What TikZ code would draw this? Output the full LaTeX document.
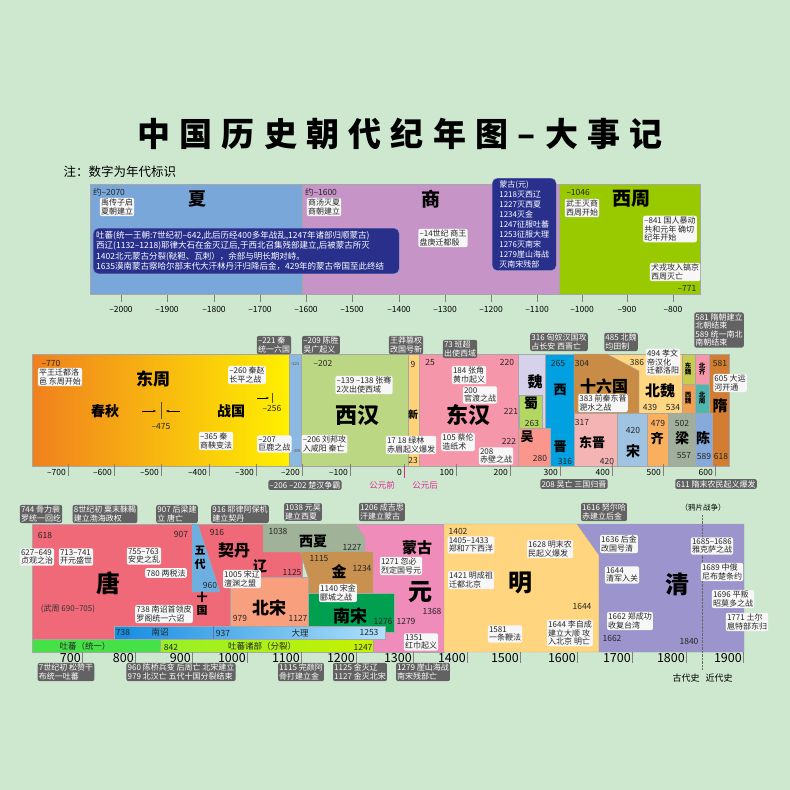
\documentclass[tikz,border=0pt]{standalone}
\usepackage{fontspec}
\setmainfont{Noto Sans CJK SC}
\usepackage{xcolor}
\definecolor{bgpaper}{RGB}{206,232,208}
\definecolor{boxgray}{RGB}{98,98,98}
\definecolor{navy}{RGB}{40,48,140}
\definecolor{cXia}{RGB}{122,167,217}
\definecolor{cShang}{RGB}{199,148,199}
\definecolor{cXizhou}{RGB}{153,202,0}
\definecolor{cDzL}{RGB}{240,128,30}
\definecolor{cDzR}{RGB}{255,240,0}
\definecolor{cQin}{RGB}{140,185,225}
\definecolor{cXihan}{RGB}{188,215,132}
\definecolor{cXin}{RGB}{255,210,120}
\definecolor{cDonghan}{RGB}{245,150,170}
\definecolor{cWei}{RGB}{215,210,235}
\definecolor{cShu}{RGB}{180,215,100}
\definecolor{cWu}{RGB}{250,150,140}
\definecolor{cXijin}{RGB}{0,160,225}
\definecolor{cSlg}{RGB}{200,140,70}
\definecolor{cBeiwei}{RGB}{255,215,130}
\definecolor{cDongwei}{RGB}{200,205,80}
\definecolor{cXiwei}{RGB}{240,160,80}
\definecolor{cBeiqi}{RGB}{245,150,170}
\definecolor{cBeizhou}{RGB}{80,180,175}
\definecolor{cSui}{RGB}{210,125,50}
\definecolor{cDongjin}{RGB}{245,180,180}
\definecolor{cSong}{RGB}{160,195,225}
\definecolor{cQi}{RGB}{250,175,95}
\definecolor{cLiang}{RGB}{160,175,155}
\definecolor{cChen}{RGB}{135,170,220}
\definecolor{cTang}{RGB}{240,105,120}
\definecolor{cWudai}{RGB}{110,175,225}
\definecolor{cBeisong}{RGB}{248,160,125}
\definecolor{cXixia}{RGB}{160,178,152}
\definecolor{cJin}{RGB}{200,145,80}
\definecolor{cNansong}{RGB}{0,160,80}
\definecolor{cYuan}{RGB}{240,140,185}
\definecolor{cMing}{RGB}{255,213,128}
\definecolor{cQing}{RGB}{156,148,205}
\definecolor{cNzL}{RGB}{20,140,225}
\definecolor{cNzR}{RGB}{175,225,250}
\definecolor{cTbL}{RGB}{70,225,70}
\definecolor{cTbM}{RGB}{150,240,40}
\definecolor{cTbR}{RGB}{200,240,0}
\definecolor{cMagenta}{RGB}{225,40,140}
\usepackage{tikz}
\usetikzlibrary{arrows.meta}

\begin{document}
\begin{tikzpicture}[x=1pt, y=-1pt,
  blk/.style={draw=black!35, line width=0.3pt},
  gbox/.style={fill=boxgray, text=white, rounded corners=2pt, inner sep=1.2pt,
    align=left, font=\fontsize{8}{8.4}\selectfont},
  wbox/.style={fill=white!97!black, text=black!85, rounded corners=2pt, inner sep=1.2pt,
    align=left, font=\fontsize{8}{8.4}\selectfont},
  nbox/.style={fill=navy, draw=navy!50, text=white, rounded corners=5pt,
    inner sep=3pt, align=left},
  yr/.style={font=\fontsize{8.5}{8.5}\selectfont, text=black!85, inner sep=0pt},
  tinyyr/.style={font=\fontsize{4}{4}\selectfont, text=black!70, inner sep=0pt},
  dyn/.style={font=\fontsize{#1}{#1}\selectfont\bfseries, inner sep=0pt, align=center},
  axlab/.style={font=\fontsize{8.5}{8.5}\selectfont, inner sep=0pt},
  bigax/.style={font=\fontsize{12.5}{12.5}\selectfont, inner sep=0pt},
]
\useasboundingbox (0,0) rectangle (790,790);
\fill[bgpaper] (0,0) rectangle (790,790);

\node[font=\fontsize{33}{33}\selectfont\bfseries\addfontfeature{LetterSpace=28}] (title) at (400,134) {中国历史朝代纪年图–大事记};
\node[font=\fontsize{12.5}{12.5}\selectfont, anchor=west] (note) at (60,172) {注：数字为年代标识};

% top band
\path[blk, fill=cXia] (90,184) rectangle (302,294);
\path[blk, fill=cShang] (302,184) rectangle (559,294);
\path[blk, fill=cXizhou] (559,184) rectangle (700,294);
\foreach \x/\t [count=\i] in {121/–2000,167/–1900,214/–1800,260/–1700,306/–1600,352/–1500,399/–1400,445/–1300,491/–1200,537/–1100,582/–1000,627/–900,673/–800}{
  \draw[black!50] (\x,295) -- (\x,302);
  \node[axlab] (ta\i) at (\x,309) {\t};
}
\node[yr] (y2070) at (109,192) {约–2070};
\node[wbox] (xiaA) at (117,207) {禹传子启\\夏朝建立};
\node[dyn=18] (xia) at (197,199) {夏};
\node[nbox, anchor=north west, text width=300pt, font=\fontsize{8.5}{10.5}\selectfont] (tubo) at (93,228)
  {吐蕃(统一王朝:7世纪初–642,此后历经400多年战乱,1247年诸部归顺蒙古)\\
   西辽(1132–1218)耶律大石在金灭辽后,于西北召集残部建立,后被蒙古所灭\\
   1402北元蒙古分裂(鞑靼、瓦剌），余部与明长期对峙。\\
   1635漠南蒙古察哈尔部末代大汗林丹汗归降后金，429年的蒙古帝国至此终结};
\node[yr] (y1600) at (321,192) {约–1600};
\node[wbox] (shangA) at (324,207) {商汤灭夏\\商朝建立};
\node[dyn=19] (shang) at (431,199) {商};
\node[wbox] (shangB) at (443,238) {–14世纪 商王\\盘庚迁都殷};
\node[nbox, anchor=north west, minimum width=64pt, minimum height=92pt, inner sep=2.5pt,
  font=\fontsize{8}{10}\selectfont] (menggu) at (492,178)
  {蒙古(元)\\1218灭西辽\\1227灭西夏\\1234灭金\\1247征服吐蕃\\1253征服大理\\1276灭南宋\\1279崖山海战\\灭南宋残部};
\node[yr] (y1046) at (578,192) {–1046};
\node[wbox] (xzA) at (582,208) {武王灭商\\西周开始};
\node[dyn=19] (xizhou) at (631,199) {西周};
\node[wbox] (xzB) at (670,229) {–841 国人暴动\\共和元年 确切\\纪年开始};
\node[wbox] (xzC) at (675,272) {犬戎攻入镐京\\西周灭亡};
\node[yr] (y771) at (687,288) {–771};

% middle band
\path[blk, left color=cDzL, right color=cDzR] (32,354) rectangle (289,466);
\path[blk, fill=cQin] (289,354) rectangle (301,466);
\path[blk, fill=cXihan] (301,354) rectangle (408,466);
\path[blk, fill=cXin] (408,354) rectangle (419,466);
\path[blk, fill=cDonghan] (419,354) rectangle (518,466);
\path[blk, fill=cWei] (518,354) rectangle (545,428);
\path[blk, fill=cShu] (519,395) rectangle (542,428);
\path[blk, fill=cXijin] (545,354) rectangle (574,466);
\path[blk, fill=cWu] (518,428) rectangle (550,466);
\path[blk, fill=cBeiwei] (607,354) rectangle (682,413);
\path[blk, fill=cSlg] (574,354) -- (607,354) -- (639,371) -- (639,413) -- (574,413) -- cycle;
\path[blk, fill=cDongwei] (682,354) rectangle (695,384);
\path[blk, fill=cXiwei] (682,384) rectangle (695,413);
\path[blk, fill=cBeiqi] (695,354) rectangle (709,384);
\path[blk, fill=cBeizhou] (695,384) rectangle (709,413);
\path[blk, fill=cSui] (709,354) rectangle (729,466);
\path[blk, fill=cDongjin] (574,413) rectangle (617,466);
\path[blk, fill=cSong] (617,413) rectangle (647,466);
\path[blk, fill=cQi] (647,413) rectangle (668,466);
\path[blk, fill=cLiang] (668,413) rectangle (695,466);
\path[blk, fill=cChen] (695,413) rectangle (712,466);
\foreach \x/\t [count=\i] in {68/–700,114/–600,161/–500,209/–400,256/–300,302/–200,350/–100,404/0,456/100,510/200,560/300,612/400,663/500,715/600}{
  \draw[black!50] (\x,464) -- (\x,476);
  \node[axlab, anchor=east] (ma\i) at (\x-2,472) {\t};
}
\draw[cMagenta, line width=0.8pt] (404,466) -- (404,478);
\node[font=\fontsize{8.5}{8.5}\selectfont, text=cMagenta] (bc) at (382,485) {公元前};
\node[font=\fontsize{8.5}{8.5}\selectfont, text=cMagenta] (ad) at (425,485) {公元后};

\node[gbox] (g221) at (274,345) {–221 秦\\统一六国};
\node[gbox] (g209) at (321,345) {–209 陈胜\\吴广起义};
\node[gbox] (gwm) at (406,345) {王莽篡权\\改国号新};
\node[gbox] (g73) at (460,349) {73 班超\\出使西域};
\node[gbox] (g316) at (559,342) {316 匈奴汉国攻\\占长安 西晋亡};
\node[gbox] (g485) at (621,342) {485 北魏\\均田制};
\node[gbox] (g581) at (719,330) {581 隋朝建立\\北朝结束\\589 统一南北\\南朝结束};
\node[gbox] (gchu) at (305,485) {–206 –202 楚汉争霸};
\node[gbox] (g280) at (574,484) {208 吴亡 三国归晋};
\node[gbox] (g611) at (716,484) {611 隋末农民起义爆发};

\node[yr] (y770) at (51,363) {–770};
\node[wbox] (dzA) at (60,377) {平王迁都洛\\邑 东周开始};
\node[dyn=17] (dongzhou) at (153,379) {东周};
\node[dyn=14] (chunqiu) at (105,411) {春秋};
\node[dyn=14] (zhanguo) at (231,411) {战国};
\draw[black!70] (161,402) -- (161,419);
\coordinate (a1) at (142,411); \coordinate (a2) at (156,411);
\coordinate (a3) at (180,411); \coordinate (a4) at (166,411);
\draw[-{Stealth[length=3pt]}] (a1) -- (a2);
\draw[-{Stealth[length=3pt]}] (a3) -- (a4);
\node[yr] (y475) at (161,427) {–475};
\node[wbox] (dzB) at (247,375) {–260 秦赵\\长平之战};
\coordinate (a5) at (257,398); \coordinate (a6) at (269,398);
\draw[-{Stealth[length=3pt]}] (a5) -- (a6);
\draw[black!70] (272,393) -- (272,403);
\node[yr] (y256) at (272,408) {–256};
\node[wbox] (dzC) at (216,441) {–365 秦\\商鞅变法};
\node[tinyyr] (q221) at (295,364) {–221};
\node[tinyyr] (q206) at (296.3,451) {–206};
\node[wbox] (qinA) at (274.3,444) {–207\\巨鹿之战};
\node[yr] (y202) at (323,363) {–202};
\node[wbox] (xhA) at (364,385) {–139 –138 张骞\\2次出使西域};
\node[dyn=22] (xihan) at (357,415) {西汉};
\node[wbox] (xhB) at (324.5,444) {–206 刘邦攻\\入咸阳 秦亡};
\node[yr] (y9) at (413,364) {9};
\node[dyn=10] (xin) at (413,415) {新};
\node[yr] (y23) at (413,460) {23};
\node[wbox] (xhC) at (411,445) {17 18 绿林\\赤眉起义爆发};
\node[yr] (y25) at (430,362) {25};
\node[yr] (y220) at (507,362) {220};
\node[wbox] (dhA) at (469,375) {184 张角\\黄巾起义};
\node[wbox] (dhB) at (480,395) {200\\官渡之战};
\node[dyn=22] (donghan) at (468,415) {东汉};
\node[yr] (y221) at (511,411) {221};
\node[yr] (y222) at (509,441) {222};
\node[wbox] (dhC) at (458,442) {105 蔡伦\\造纸术};
\node[wbox] (dhD) at (496,456) {208\\赤壁之战};

\node[dyn=15] (wei) at (535,382) {魏};
\node[dyn=14] (shu) at (531,403) {蜀};
\node[yr] (y263) at (532,423) {263};
\node[dyn=13] (wu) at (527,437) {吴};
\node[yr] (y280) at (540,458) {280};
\node[yr] (y265) at (558,363) {265};
\node[dyn=13] (xijin1) at (560,390) {西};
\node[dyn=13] (xijin2) at (560,447) {晋};
\node[yr] (y316) at (565,461) {316};
\node[yr] (y304) at (582,363) {304};
\node[dyn=16] (slg) at (604,386) {十六国};
\node[wbox] (slgA) at (603,403) {383 前秦东晋\\淝水之战};
\node[yr] (y386) at (637,362) {386};
\node[dyn=15] (beiwei) at (660,391) {北魏};
\node[yr] (y439) at (650,407) {439};
\node[yr] (y534) at (673,407) {534};
\node[wbox] (bwA) at (663,362) {494 孝文\\帝汉化\\迁都洛阳};
\node[dyn=6.5] (dongwei) at (688,369) {东\\魏};
\node[dyn=6.5] (xiwei) at (688,398) {西\\魏};
\node[dyn=6.5] (beiqi) at (702,369) {北\\齐};
\node[dyn=6.5] (beizhou) at (702,398) {北\\周};
\node[yr] (y581) at (720,363) {581};
\node[dyn=15] (sui) at (720,406) {隋};
\node[yr] (y618) at (721,456) {618};
\node[wbox] (suiA) at (730,383) {605 大运\\河开通};
\node[yr] (y317) at (582,422) {317};
\node[dyn=13] (dongjin) at (592,442) {东晋};
\node[yr] (y420a) at (607,461) {420};
\node[yr] (y420b) at (633,430) {420};
\node[dyn=14] (song) at (633,451) {宋};
\node[yr] (y479) at (658,423) {479};
\node[dyn=13] (qi) at (657,438) {齐};
\node[yr] (y502) at (682,423) {502};
\node[dyn=14] (liang) at (682,438) {梁};
\node[yr] (y557) at (684,456) {557};
\node[dyn=14] (chen) at (703,438) {陈};
\node[yr] (y589) at (704,456) {589};

% bottom band
\path[blk, fill=cTang] (32,524) rectangle (302,639);
\path[blk, fill=cWudai] (192,524) -- (198,524) -- (220,592) -- (192,592) -- cycle;
\path[blk, fill=cYuan] (355,524) rectangle (444,652);
\path[blk, fill=cXixia] (263,524) -- (355,524) -- (365,538) -- (365,552) -- (263,552) -- cycle;
\path[blk, fill=cJin] (300,552) -- (373,552) -- (373,593) -- (308,593) -- (308,577) -- cycle;
\path[blk, fill=cBeisong] (230,577) rectangle (308,626);
\path[blk, fill=cNansong] (308,593) rectangle (394,632);
\path[blk, left color=cNzL, right color=cNzR] (114,626) rectangle (385,639);
\draw[navy!70, line width=0.8pt] (213,626) -- (213,639);
\path[blk, fill=cTbL] (32,639) rectangle (160,652);
\path[blk, left color=cTbM, right color=cTbR] (160,639) rectangle (373,652);
\path[blk, fill=cMing] (444,524) -- (577,524) -- (599,555) -- (599,652) -- (444,652) -- cycle;
\path[blk, fill=cQing] (577,524) -- (744,524) -- (744,652) -- (599,652) -- (599,555) -- cycle;
\draw[black!60, densely dotted] (702,515) -- (702,670);
\foreach \x/\t [count=\i] in {82/700,135/800,192/900,247/1000,301/1100,356/1200,413/1300,467/1400,520/1500,577/1600,632/1700,686/1800,743/1900}{
  \draw[black!50] (\x,652) -- (\x,663);
  \node[bigax, anchor=east] (ba\i) at (\x-1,658) {\t};
}

\node[gbox] (g744) at (41,514) {744 骨力裴\\罗统一回纥};
\node[gbox] (g8c) at (105,514) {8世纪初 粟末靺鞨\\建立渤海政权};
\node[gbox] (g907) at (177,514) {907 后梁建\\立 唐亡};
\node[gbox] (g916) at (240,514) {916 耶律阿保机\\建立契丹};
\node[gbox] (g1038) at (303,512) {1038 元昊\\建立西夏};
\node[gbox] (g1206) at (382,512) {1206 成吉思\\汗建立蒙古};
\node[gbox] (g1616) at (604,512) {1616 努尔哈\\赤建立后金};
\node[gbox] (g7c) at (66,672) {7世纪初 松赞干\\布统一吐蕃};
\node[gbox] (g960) at (181,672) {960 陈桥兵变 后周亡 北宋建立\\979 北汉亡 五代十国分裂结束};
\node[gbox] (g1115) at (301,672) {1115 完颜阿\\骨打建立金};
\node[gbox] (g1125) at (360,672) {1125 金灭辽\\1127 金灭北宋};
\node[gbox] (g1279) at (423,672) {1279 崖山海战\\南宋残部亡};
\node[font=\fontsize{7.5}{7.5}\selectfont] (opium) at (703,508) {（鸦片战争）};
\node[font=\fontsize{9}{9}\selectfont] (gudai) at (686,678) {古代史};
\node[font=\fontsize{9}{9}\selectfont] (jindai) at (719,678) {近代史};

\node[yr] (y618b) at (45,535) {618};
\node[yr] (y907) at (181,534) {907};
\node[wbox] (tangA) at (37,557) {627–649\\贞观之治};
\node[wbox] (tangB) at (76,557) {713–741\\开元盛世};
\node[dyn=24] (tang) at (108,583) {唐};
\node[wbox] (tangC) at (144,556) {755–763\\安史之乱};
\node[wbox] (tangD) at (166,573) {780 两税法};
\node[font=\fontsize{8}{8}\selectfont, text=black!80] (wuzhou) at (68,609) {(武周 690–705)};
\node[wbox] (tangE) at (164,614) {738 南诏首领皮\\罗阁统一六诏};
\node[dyn=11] (wudai) at (200,558) {五\\[3pt]代};
\node[yr] (y960) at (210,585) {960};
\node[dyn=11] (shiguo) at (202,604) {十\\[2pt]国};
\node[yr] (y916) at (217,532) {916};
\node[dyn=16] (qidan) at (234,550) {契丹};
\node[dyn=14] (liao) at (260,566) {辽};
\node[wbox] (liaoA) at (242,579) {1005 宋辽\\澶渊之盟};
\node[yr] (y1125) at (292,572) {1125};
\node[yr] (y1038) at (278,531) {1038};
\node[dyn=14] (xixia) at (313,541) {西夏};
\node[yr] (y1227) at (352,547) {1227};
\node[yr] (y1115) at (319,559) {1115};
\node[dyn=15] (jin) at (339,572) {金};
\node[yr] (y1234) at (362,568) {1234};
\node[wbox] (jinA) at (338,593) {1140 宋金\\郾城之战};
\node[dyn=17] (beisong) at (269,608) {北宋};
\node[yr] (y979) at (240,618) {979};
\node[yr] (y1127) at (298,618) {1127};
\node[dyn=17] (nansong) at (350,616) {南宋};
\node[yr] (y1276) at (383,621) {1276};
\node[dyn=15] (mg) at (417,548) {蒙古};
\node[wbox] (yuanA) at (401,566) {1271 忽必\\烈定国号元};
\node[dyn=24] (yuan) at (420,592) {元};
\node[yr] (y1368) at (432,611) {1368};
\node[yr] (y1279) at (406,621) {1279};
\node[wbox] (yuanB) at (421,642) {1351\\红巾起义};
\node[yr] (y738) at (123,632) {738};
\node[yr] (nanzhao) at (160,632) {南诏};
\node[yr] (y937) at (223,633) {937};
\node[yr] (dali) at (300,633) {大理};
\node[yr] (y1253) at (369,632) {1253};
\node[yr] (tbA) at (85,646) {吐蕃（统一）};
\node[yr] (y842) at (171,647) {842};
\node[yr] (tbB) at (262,646) {吐蕃诸部（分裂）};
\node[yr] (y1247) at (363,647) {1247};

\node[yr] (y1402) at (458,531) {1402};
\node[wbox] (mingA) at (471,545) {1405–1433\\郑和7下西洋};
\node[wbox] (mingB) at (471,580) {1421 明成祖\\迁都北京};
\node[dyn=24] (ming) at (520,583) {明};
\node[wbox] (mingC) at (505,634) {1581\\一条鞭法};
\node[wbox] (mingD) at (550,549) {1628 明末农\\民起义爆发};
\node[yr] (y1644) at (582,606) {1644};
\node[wbox] (mingE) at (570,633) {1644 李自成\\建立大顺 攻\\入北京 明亡};
\node[wbox] (qingA) at (619,544) {1636 后金\\改国号清};
\node[wbox] (qingB) at (622,575) {1644\\清军入关};
\node[dyn=24] (qing) at (677,584) {清};
\node[wbox] (qingC) at (630,621) {1662 郑成功\\收复台湾};
\node[yr] (y1662) at (612,638) {1662};
\node[yr] (y1840) at (689,641) {1840};
\node[wbox] (qingD) at (712,546) {1685–1686\\雅克萨之战};
\node[wbox] (qingE) at (722,572) {1689 中俄\\尼布楚条约};
\node[wbox] (qingF) at (733,599) {1696 平叛\\昭莫多之战};
\node[wbox] (qingG) at (747,622) {1771 土尔\\扈特部东归};
\end{tikzpicture}
\end{document}
